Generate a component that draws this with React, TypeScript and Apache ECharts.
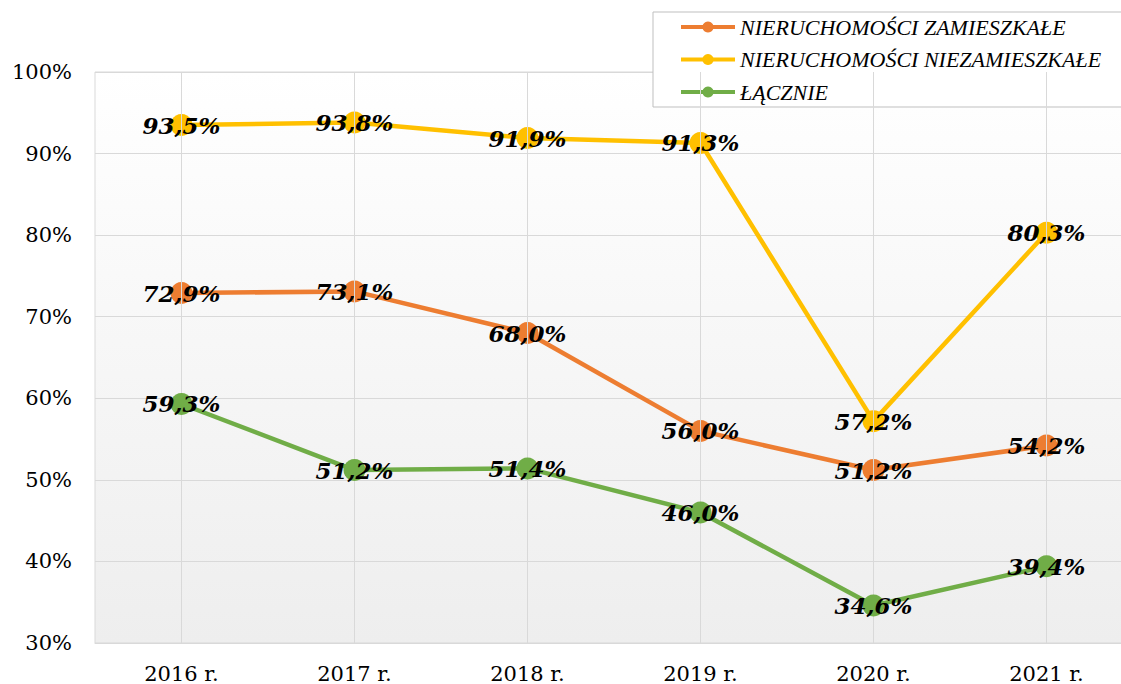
import React, { useEffect, useRef } from "react";
import * as echarts from "echarts";

const categories = ["2016 r.", "2017 r.", "2018 r.", "2019 r.", "2020 r.", "2021 r."];
const seriesNames = ["NIERUCHOMOŚCI ZAMIESZKAŁE", "NIERUCHOMOŚCI NIEZAMIESZKAŁE", "ŁĄCZNIE"];
const zamieszkale = [72.9, 73.1, 68.0, 56.0, 51.2, 54.2];
const niezamieszkale = [93.5, 93.8, 91.9, 91.3, 57.2, 80.3];
const lacznie = [59.3, 51.2, 51.4, 46.0, 34.6, 39.4];
const colors = ["#ED7D31", "#FFC000", "#70AD47"];
const yMin = 30;
const yMax = 100;
const yStep = 10;

const fmt = (v: number) => v.toFixed(1).replace(".", ",") + "%";

export default function App() {
  const ref = useRef<HTMLDivElement>(null);
  useEffect(() => {
    if (!ref.current) return;
    const chart = echarts.init(ref.current, undefined, { renderer: "svg" });
    const labelCfg = {
      show: true,
      position: "inside",
      formatter: (p: any) => fmt(p.value),
      fontFamily: "DejaVu Serif",
      fontWeight: "bold",
      fontStyle: "italic",
      fontSize: 23,
      color: "#000",
    };
    const mk = (name: string, data: number[], color: string, z: number) => ({
      name,
      type: "line",
      data,
      color,
      z,
      symbol: "circle",
      symbolSize: 22,
      lineStyle: { width: 4.5, color },
      itemStyle: { color },
      label: labelCfg,
      emphasis: { disabled: true },
    });
    chart.setOption({
      animation: false,
      textStyle: { fontFamily: "DejaVu Serif" },
      grid: {
        left: 95,
        top: 72,
        width: 1038,
        height: 572,
        show: true,
        borderColor: "#d9d9d9",
        borderWidth: 1,
        backgroundColor: new echarts.graphic.LinearGradient(0, 0, 0, 1, [
          { offset: 0, color: "#ffffff" },
          { offset: 1, color: "#eeeeee" },
        ]),
      },
      legend: {
        data: seriesNames,
        orient: "vertical",
        left: 653,
        top: 12,
        padding: [4, 40, 4, 26],
        itemWidth: 54,
        itemHeight: 14,
        itemGap: 10.5,
        borderColor: "#bfbfbf",
        borderWidth: 1,
        backgroundColor: "#ffffff",
        lineStyle: { width: 4 },
        textStyle: {
          fontFamily: "Liberation Serif",
          fontStyle: "italic",
          fontSize: 22,
          lineHeight: 22,
          color: "#000",
        },
      },
      xAxis: {
        type: "category",
        data: categories,
        boundaryGap: true,
        axisLine: { show: true, lineStyle: { color: "#d9d9d9", width: 1 } },
        axisTick: { show: false },
        splitLine: { show: false },
        axisLabel: {
          margin: 20,
          fontFamily: "DejaVu Serif",
          fontSize: 21,
          color: "#000",
        },
      },
      yAxis: {
        type: "value",
        min: yMin,
        max: yMax,
        interval: yStep,
        axisLine: { show: false },
        axisTick: { show: false },
        splitLine: { show: true, lineStyle: { color: "#d9d9d9", width: 1 } },
        axisLabel: {
          margin: 23,
          formatter: (v: number) => v + "%",
          fontFamily: "DejaVu Serif",
          fontSize: 21,
          color: "#000",
        },
      },
      series: [
        {
          type: "line",
          data: [],
          z: 1,
          silent: true,
          markLine: {
            silent: true,
            symbol: "none",
            label: { show: false },
            lineStyle: { color: "#d9d9d9", width: 1, type: "solid" },
            data: categories.map((c) => ({ xAxis: c })),
          },
        },
        mk(seriesNames[0], zamieszkale, colors[0], 3),
        mk(seriesNames[1], niezamieszkale, colors[1], 4),
        mk(seriesNames[2], lacznie, colors[2], 5),
      ],
    });
    return () => chart.dispose();
  }, []);
  return (
    <div
      style={{
        position: "absolute",
        left: 0,
        top: 0,
        width: 1121,
        height: 684,
        overflow: "hidden",
      }}
    >
      <div ref={ref} style={{ width: 1160, height: 684 }} />
    </div>
  );
}
